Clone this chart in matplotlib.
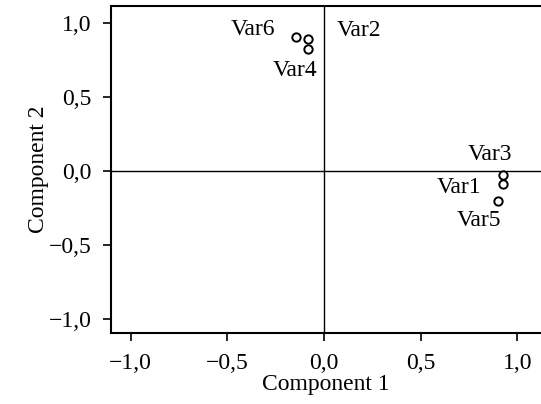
import matplotlib
matplotlib.use("Agg")
import matplotlib.pyplot as plt
from matplotlib.ticker import FuncFormatter

# Loadings on the first two components
variables = ["Var1", "Var2", "Var3", "Var4", "Var5", "Var6"]
comp1 = [0.927, -0.085, 0.927, -0.085, 0.900, -0.147]
comp2 = [-0.086, 0.890, -0.027, 0.825, -0.200, 0.902]

# Label placement: offset in points from the marker, horizontal alignment
label_offsets = {
    "Var1": (-15.7, -6.7, "right"),
    "Var2": (21.2, 2.2, "left"),
    "Var3": (6.8, 10.8, "right"),
    "Var4": (6.8, -19.4, "right"),
    "Var5": (2.4, -18.5, "right"),
    "Var6": (-14.8, 1.8, "right"),
}

ticks = [-1.0, -0.5, 0.0, 0.5, 1.0]

plt.rcParams["font.family"] = ["Liberation Serif", "DejaVu Serif"]
plt.rcParams["font.size"] = 17

fig = plt.figure(figsize=(5.41, 4.04), dpi=100)
ax = fig.add_axes([0.205, 0.175, 0.795, 0.811])

ax.axhline(0, color="black", lw=1.0, zorder=1)
ax.axvline(0, color="black", lw=1.0, zorder=1)

ax.plot(comp1, comp2, linestyle="none", marker="o", markersize=6,
        markerfacecolor="white", markeredgecolor="black", markeredgewidth=1.4,
        zorder=3)

for name, x, y in zip(variables, comp1, comp2):
    dx, dy, ha = label_offsets[name]
    ax.annotate(name, (x, y), xytext=(dx, dy), textcoords="offset points",
                ha=ha, va="baseline", fontsize=17)

ax.set_xlim(-1.102, 1.1226)
ax.set_ylim(-1.094, 1.116)
ax.set_xticks(ticks)
ax.set_yticks(ticks)

fmt = FuncFormatter(lambda v, p: f"{v:.1f}".replace(".", ",").replace("-", "\u2212"))
ax.xaxis.set_major_formatter(fmt)
ax.yaxis.set_major_formatter(fmt)

ax.tick_params(direction="out", length=5.5, width=1.2, labelsize=17)
ax.tick_params(axis="x", pad=9)
ax.tick_params(axis="y", pad=8.5)
for side in ("left", "bottom", "top"):
    ax.spines[side].set_linewidth(1.5)
ax.spines["right"].set_visible(False)

ax.set_xlabel("Component 1", fontsize=17, labelpad=0)
ax.set_ylabel("Component 2", fontsize=17, labelpad=0)

fig.savefig("out.png", dpi=100)
